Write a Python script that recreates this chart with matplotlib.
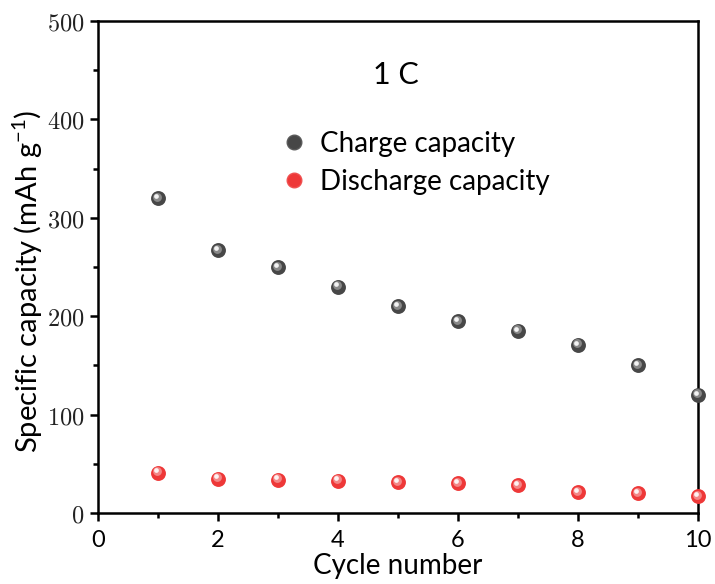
import matplotlib
matplotlib.use("Agg")
import matplotlib.pyplot as plt
from matplotlib import transforms
from matplotlib.lines import Line2D
from matplotlib.ticker import FuncFormatter, MultipleLocator

cycles = [1, 2, 3, 4, 5, 6, 7, 8, 9, 10]
charge = [320, 267, 250, 230, 210, 195, 185, 171, 150, 120]
discharge = [41, 35, 34, 33, 31, 30, 28, 21, 20, 17]
series_labels = ["Charge capacity", "Discharge capacity"]
rate_label = "1 C"
x_label = "Cycle number"
y_label = "Specific capacity (mAh g$^{-1}$)"

plt.rcParams['mathtext.fontset'] = 'custom'
plt.rcParams['mathtext.rm'] = 'Lato'
plt.rcParams['mathtext.it'] = 'Lato:italic'
SANS = ['Lato', 'DejaVu Sans']

fig = plt.figure(figsize=(7.15, 5.84), dpi=100)
ax = fig.add_axes([98/715, 1-513/584, 600/715, 492/584])

def sphere(xs, ys, base, mid, size=115):
    ax.scatter(xs, ys, s=size, color=base, zorder=3, clip_on=False, linewidths=0)
    t1 = transforms.offset_copy(ax.transData, fig=fig, x=-1.5, y=1.5, units='dots')
    ax.scatter(xs, ys, s=size*0.35, color=mid, zorder=4, clip_on=False,
               linewidths=0, transform=t1, alpha=0.8)
    t2 = transforms.offset_copy(ax.transData, fig=fig, x=-2.2, y=2.2, units='dots')
    ax.scatter(xs, ys, s=size*0.1, color='white', zorder=5, clip_on=False,
               linewidths=0, transform=t2, alpha=0.9)

sphere(cycles, charge, '#474747', '#9a9a9a')
sphere(cycles, discharge, '#ee3838', '#f59a9a')

ax.set_xlim(0, 10)
ax.set_ylim(0, 500)
ax.xaxis.set_major_locator(MultipleLocator(2))
ax.xaxis.set_minor_locator(MultipleLocator(1))
ax.yaxis.set_major_locator(MultipleLocator(100))
ax.yaxis.set_minor_locator(MultipleLocator(50))
ax.tick_params(which='both', direction='out', width=1.8, top=False, right=False)
ax.tick_params(which='major', length=6)
ax.tick_params(which='minor', length=3.5)
ax.tick_params(axis='y', which='major', pad=4)
ax.tick_params(axis='x', which='major', pad=6)
for sp in ax.spines.values():
    sp.set_linewidth(1.8)

ax.yaxis.set_major_formatter(FuncFormatter(lambda v, p: r'$%d$' % v))
for lab in ax.get_yticklabels():
    lab.set_fontsize(17.5)
    lab.set_math_fontfamily('cm')
    lab.set_color('#222222')
for lab in ax.get_xticklabels():
    lab.set_fontsize(17)
    lab.set_family(SANS)

ax.set_xlabel(x_label, fontsize=20, family=SANS, labelpad=2)
ax.set_ylabel(y_label, fontsize=21, family=SANS)
ax.yaxis.set_label_coords(-0.088, 0.47)

ax.text(0.497, 0.89, rate_label, transform=ax.transAxes, fontsize=22,
        family=SANS, ha='center', va='center')

handles = [
    Line2D([], [], ls='none', marker='o', markersize=10.5, markerfacecolor='#474747',
           markeredgecolor='#5a5a5a'),
    Line2D([], [], ls='none', marker='o', markersize=10.5, markerfacecolor='#ee3838',
           markeredgecolor='#f05050'),
]
ax.legend(handles, series_labels, loc='upper left', bbox_to_anchor=(0.28, 0.80),
          frameon=False, prop={'family': SANS, 'size': 20}, handletextpad=0.35,
          labelspacing=0.45, handlelength=1.2, borderaxespad=0)

fig.savefig('out.png', dpi=100)
